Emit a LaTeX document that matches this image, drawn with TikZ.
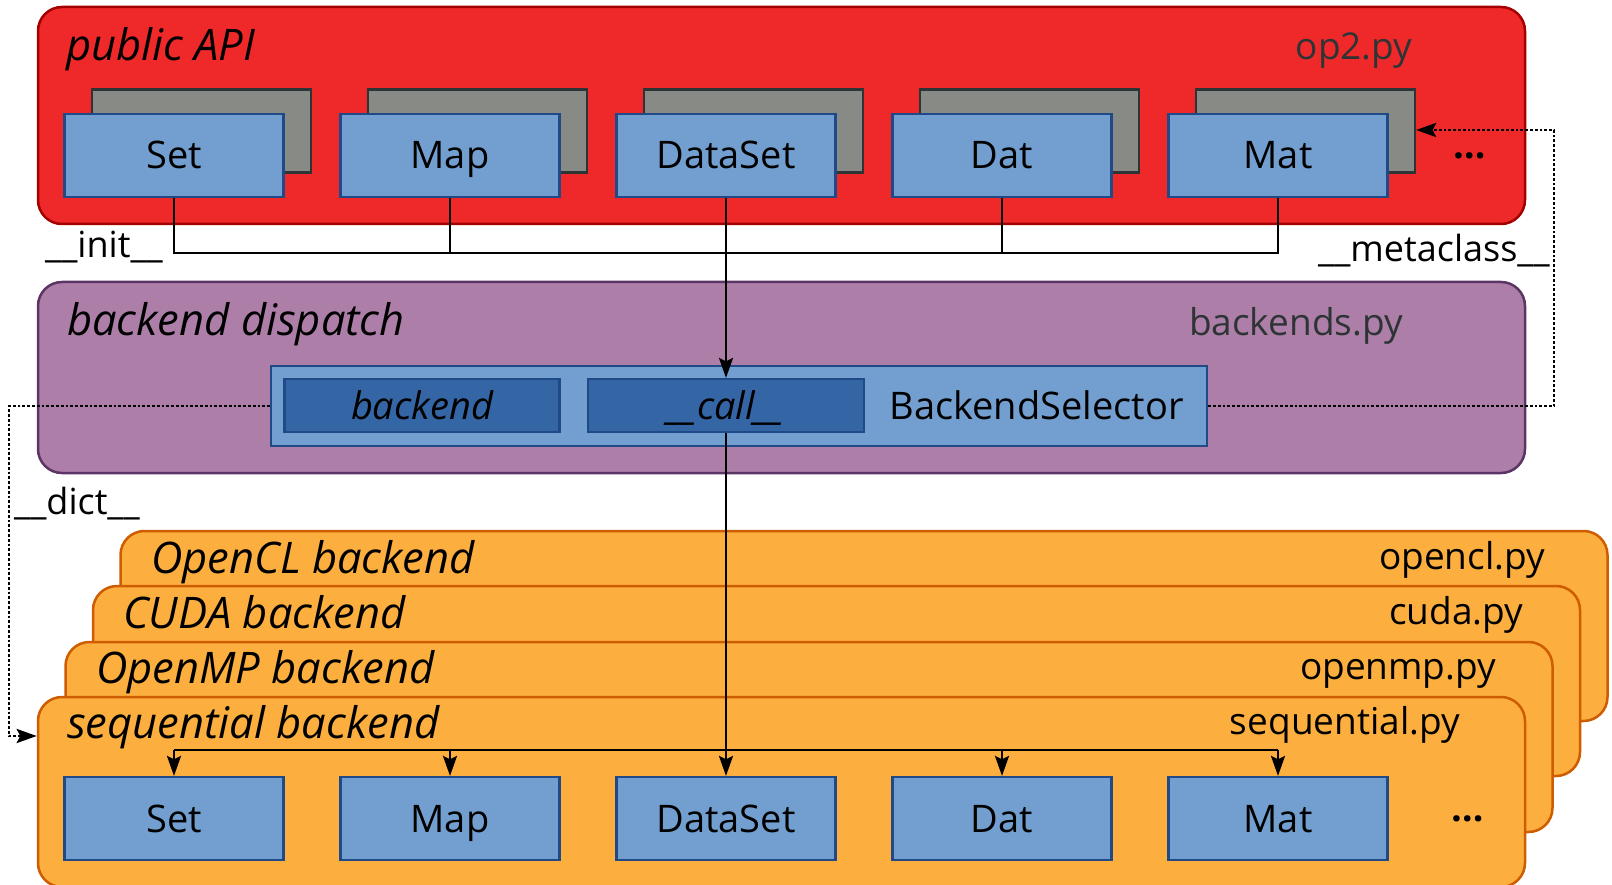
\documentclass[tikz,border=0pt]{standalone}
\usepackage{fontspec}
\setmainfont{Open Sans}
\usetikzlibrary{arrows.meta}
\definecolor{redfill}{HTML}{EF2929}
\definecolor{redline}{HTML}{A40000}
\definecolor{plumfill}{HTML}{AD7FA8}
\definecolor{plumline}{HTML}{5C3566}
\definecolor{orfill}{HTML}{FCAF3E}
\definecolor{orline}{HTML}{CE5C00}
\definecolor{bluefill}{HTML}{729FCF}
\definecolor{blueline}{HTML}{204A87}
\definecolor{darkblue}{HTML}{3465A4}
\definecolor{grayfill}{HTML}{888A85}
\definecolor{grayline}{HTML}{2E3436}
\definecolor{pytext}{HTML}{2E3436}
\begin{document}
\begin{tikzpicture}[x=1pt,y=-1pt,
  layer/.style={rounded corners=24pt, line width=2.5pt, minimum width=1487pt, inner sep=0pt},
  cls/.style={draw=blueline, fill=bluefill, line width=2.2pt, minimum width=219pt, minimum height=83pt, inner sep=0pt, text height=27pt, text depth=0pt, font=\fontsize{38}{42}\selectfont},
  shadowbox/.style={draw=grayline, fill=grayfill, line width=2.2pt, minimum width=219pt, minimum height=83pt, inner sep=0pt},
  inner/.style={draw=blueline, fill=darkblue, line width=2.2pt, minimum height=53pt, inner sep=0pt, text height=27pt, text depth=0pt, font=\fontsize{38}{42}\selectfont\itshape},
  title/.style={anchor=base west, inner sep=0pt, font=\fontsize{43.5}{46}\selectfont\itshape},
  file/.style={anchor=base, inner sep=0pt, font=\fontsize{37}{40}\selectfont},
  lab/.style={anchor=base, inner sep=0pt, font=\fontsize{36}{40}\selectfont},
  dots/.style={inner sep=0pt, font=\fontsize{38}{40}\selectfont\bfseries},
  conn/.style={line width=2.6pt},
  arr/.style={conn, -{Stealth[length=20pt,width=14pt,inset=3.5pt]}},
  dot/.style={line width=2.8pt, dotted, -{Stealth[length=20pt,width=14pt,inset=3.5pt]}}
]
\useasboundingbox (0,0) rectangle (1612,885);
% layers
\node[layer, draw=redline, fill=redfill, minimum height=217pt] (api) at (781.5,115.5) {};
\node[layer, draw=plumline, fill=plumfill, minimum height=191pt] (disp) at (781.5,377.5) {};
\node[layer, draw=orline, fill=orfill, minimum height=190pt] (ocl) at (864,626) {};
\node[layer, draw=orline, fill=orfill, minimum height=190pt] (cuda) at (836.5,681) {};
\node[layer, draw=orline, fill=orfill, minimum height=190pt] (omp) at (809,737) {};
\node[layer, draw=orline, fill=orfill, minimum height=190pt] (seq) at (781.5,792) {};
% layer titles
\node[title] (tapi) at (66,61) {public API};
\node[file, text=pytext] (fapi) at (1354,60) {op2.py};
\node[title] (tdisp) at (67,335) {backend dispatch};
\node[file, text=pytext] (fdisp) at (1296,335) {backends.py};
\node[title] (tocl) at (151,573) {OpenCL backend};
\node[file] (focl) at (1462,569) {opencl.py};
\node[title] (tcuda) at (123,628) {CUDA backend};
\node[file] (fcuda) at (1456,624) {cuda.py};
\node[title] (tomp) at (96,683) {OpenMP backend};
\node[file] (fomp) at (1398,679) {openmp.py};
\node[title] (tseq) at (67,738) {sequential backend};
\node[file] (fseq) at (1345,734) {sequential.py};
% public API classes
\foreach \i/\x in {1/174,2/450,3/726,4/1002,5/1278}{
  \node[shadowbox] (s\i) at (\x+27.5,131) {};
}
\node[cls] (t1) at (174,155.5) {Set};
\node[cls] (t2) at (450,155.5) {Map};
\node[cls] (t3) at (726,155.5) {DataSet};
\node[cls] (t4) at (1002,155.5) {Dat};
\node[cls] (t5) at (1278,155.5) {Mat};
\node[dots] (tdots) at (1470,156) {…};
% backend selector
\node[cls, minimum width=936pt, minimum height=80pt] (bs) at (739,406) {};
\node[inner, minimum width=275pt] (be) at (422,405.5) {backend};
\node[inner, minimum width=276pt] (call) at (726,405.5) {\_\_call\_\_};
\node[inner sep=0pt, text height=27pt, text depth=0pt, font=\fontsize{38}{42}\selectfont] (bstext) at (1036.5,406) {BackendSelector};
% sequential classes
\node[cls] (b1) at (174,818.5) {Set};
\node[cls] (b2) at (450,818.5) {Map};
\node[cls] (b3) at (726,818.5) {DataSet};
\node[cls] (b4) at (1002,818.5) {Dat};
\node[cls] (b5) at (1278,818.5) {Mat};
\node[dots] (bdots) at (1468,819) {…};
% connectors
\coordinate (busT) at (0,253);
\draw[conn] (t1.south) -- (t1.south |- busT) -- (t5.south |- busT) -- (t5.south);
\draw[conn] (t2.south) -- (t2.south |- busT);
\draw[conn] (t4.south) -- (t4.south |- busT);
\draw[arr] (t3.south) -- (call.north);
\coordinate (busB) at (0,750);
\draw[conn] (b1.north |- busB) -- (b5.north |- busB);
\foreach \i in {1,2,4,5}{\draw[arr] (b\i.north |- busB) -- (b\i.north);}
\draw[arr] (call.south) -- (b3.north);
\coordinate (dictL) at (9,736);
\draw[dot] (bs.west) -| (dictL) -- (seq.west |- dictL);
\coordinate (metaR) at (1554,130);
\draw[dot] (bs.east) -| (metaR) -- (s5.east |- metaR);
% labels
\node[lab] (linit) at (104,258) {\_\_init\_\_};
\node[lab] (lmeta) at (1434,262) {\_\_metaclass\_\_};
\node[lab] (ldict) at (77,514) {\_\_dict\_\_};
\end{tikzpicture}
\end{document}
